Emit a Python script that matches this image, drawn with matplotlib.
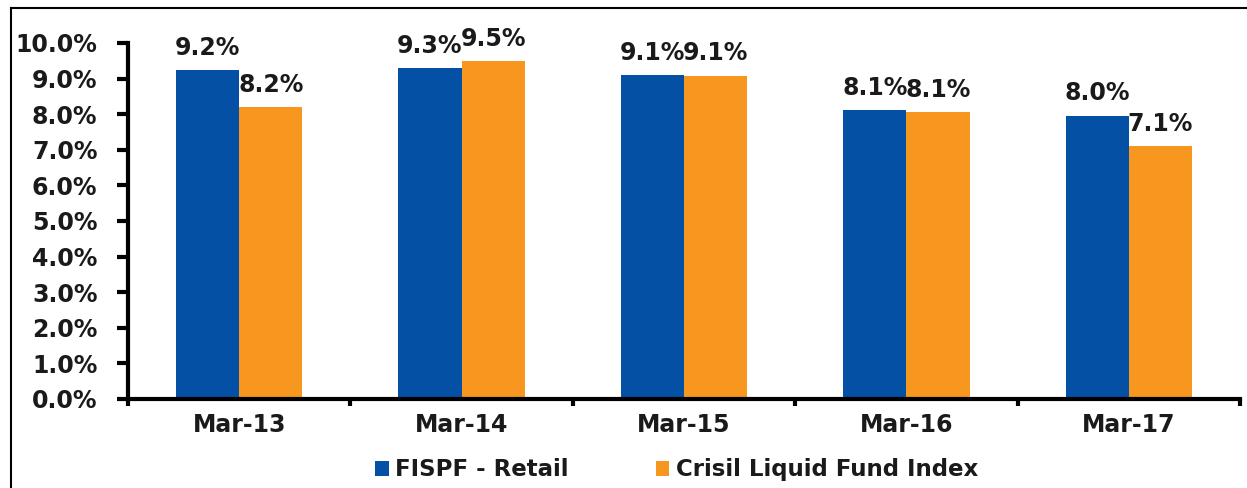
import matplotlib
matplotlib.use('Agg')
from matplotlib import pyplot as plt
from matplotlib.lines import Line2D
import numpy as np

categories = ['Mar-13', 'Mar-14', 'Mar-15', 'Mar-16', 'Mar-17']
fispf = [9.24, 9.30, 9.10, 8.12, 7.96]
crisil = [8.20, 9.49, 9.08, 8.06, 7.10]
fispf_labels = ['9.2%', '9.3%', '9.1%', '8.1%', '8.0%']
crisil_labels = ['8.2%', '9.5%', '9.1%', '8.1%', '7.1%']

BLUE = '#0350A5'
ORANGE = '#F7971F'
TXT = '#1a1a1a'

plt.rcParams['font.family'] = 'DejaVu Sans'
plt.rcParams['font.weight'] = 'bold'

fig = plt.figure(figsize=(12.47, 4.88), dpi=100)
ax = fig.add_axes([0.1026, 0.1824, 0.8918, 0.7295])

x = np.arange(len(categories))
w = 0.284
b1 = ax.bar(x - w / 2, fispf, w, color=BLUE, label='FISPF - Retail')
b2 = ax.bar(x + w / 2, crisil, w, color=ORANGE, label='Crisil Liquid Fund Index')

for bars, labels in ((b1, fispf_labels), (b2, crisil_labels)):
    for bar, lab in zip(bars, labels):
        ax.annotate(lab, (bar.get_x() + bar.get_width() / 2, bar.get_height()),
                    xytext=(0, 11), textcoords='offset points',
                    ha='center', va='baseline', fontsize=17, fontweight='bold',
                    color=TXT)

ax.set_xlim(-0.5, len(categories) - 0.5)
ax.set_ylim(0, 10)
ax.set_yticks(np.arange(0, 10.5, 1))
ax.set_yticklabels(['%.1f%%' % v for v in np.arange(0, 10.5, 1)])
ax.set_xticks(x)
ax.set_xticklabels(categories)
ax.set_xticks(np.arange(-0.5, len(categories)), minor=True)

for s in ('top', 'right'):
    ax.spines[s].set_visible(False)
for s in ('left', 'bottom'):
    ax.spines[s].set_linewidth(3)

ax.tick_params(axis='y', direction='out', length=8, width=3, pad=14,
               labelsize=17, labelcolor=TXT)
ax.tick_params(axis='x', which='major', length=0, pad=10,
               labelsize=17, labelcolor=TXT)
ax.tick_params(axis='x', which='minor', direction='out', length=5, width=3)

fig.legend(handles=[b1, b2], loc='center', bbox_to_anchor=(676.5 / 1247, 0.037),
           ncol=2, frameon=False, fontsize=16.5, handlelength=0.6,
           handleheight=0.6, handletextpad=0.27, columnspacing=3.8,
           borderaxespad=0, borderpad=0, labelcolor=TXT)

# border of the original screenshot (top and left edges)
fig.add_artist(Line2D([11 / 1247, 1.0], [1 - 8 / 488, 1 - 8 / 488],
                      transform=fig.transFigure, color='black', lw=1.5))
fig.add_artist(Line2D([11 / 1247, 11 / 1247], [0.0, 1 - 8 / 488],
                      transform=fig.transFigure, color='black', lw=1.5))

fig.savefig('out.png', dpi=100)
